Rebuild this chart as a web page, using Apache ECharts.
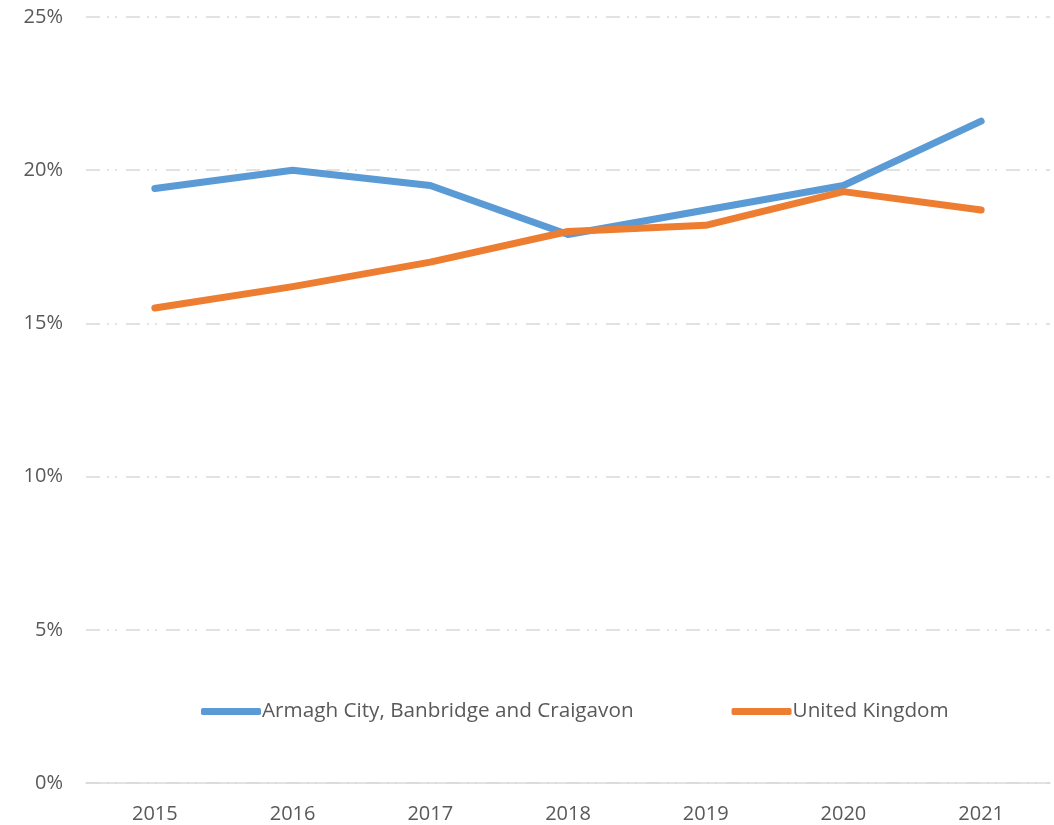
<!DOCTYPE html>
<html>
<head>
<meta charset="utf-8">
<script src="https://cdn.jsdelivr.net/npm/echarts@6/dist/echarts.min.js"></script>
<style>html,body{margin:0;padding:0;background:#fff;}#c{width:1054px;height:825px;}</style>
</head>
<body>
<div id="c"></div>
<script>
const years = ['2015','2016','2017','2018','2019','2020','2021'];
const armagh = [19.4, 20.0, 19.5, 17.9, 18.7, 19.5, 21.6];
const uk = [15.5, 16.2, 17.0, 18.0, 18.2, 19.3, 18.7];
const seriesNames = ['Armagh City, Banbridge and Craigavon', 'United Kingdom'];

const FONT = '"Open Sans", "Noto Sans", sans-serif';
const chart = echarts.init(document.getElementById('c'), null, {renderer: 'canvas'});
chart.setOption({
  animation: false,
  backgroundColor: '#fff',
  grid: {left: 86, right: 4, top: 17, bottom: 42},
  legend: {
    left: 196, top: 696,
    itemWidth: 60, itemHeight: 7, itemGap: 98,
    icon: 'roundRect',
    textStyle: {fontFamily: FONT, fontSize: 20.7, color: '#595959', padding: [0,0,0,-4]},
    data: seriesNames
  },
  xAxis: {
    type: 'category', data: years, boundaryGap: true,
    axisLine: {lineStyle: {color: '#d9d9d9', width: 1.5}},
    axisTick: {show: false},
    axisLabel: {fontFamily: FONT, fontSize: 20, color: '#595959', margin: 21}
  },
  yAxis: {
    type: 'value', min: 0, max: 25, interval: 5,
    axisLine: {show: false}, axisTick: {show: false},
    axisLabel: {fontFamily: FONT, fontSize: 20, color: '#595959', margin: 23, formatter: v => v + '%'},
    splitLine: {lineStyle: {color: '#d9d9d9', width: 1.5, type: [14, 7, 2, 6, 2, 9]}}
  },
  series: [
    {name: seriesNames[0], type: 'line', data: armagh, showSymbol: false, color: '#5B9BD5',
     lineStyle: {width: 7, cap: 'round', join: 'round', color: '#5B9BD5'}},
    {name: seriesNames[1], type: 'line', data: uk, showSymbol: false, color: '#ED7D31',
     lineStyle: {width: 7, cap: 'round', join: 'round', color: '#ED7D31'}}
  ]
});
</script>
</body>
</html>
